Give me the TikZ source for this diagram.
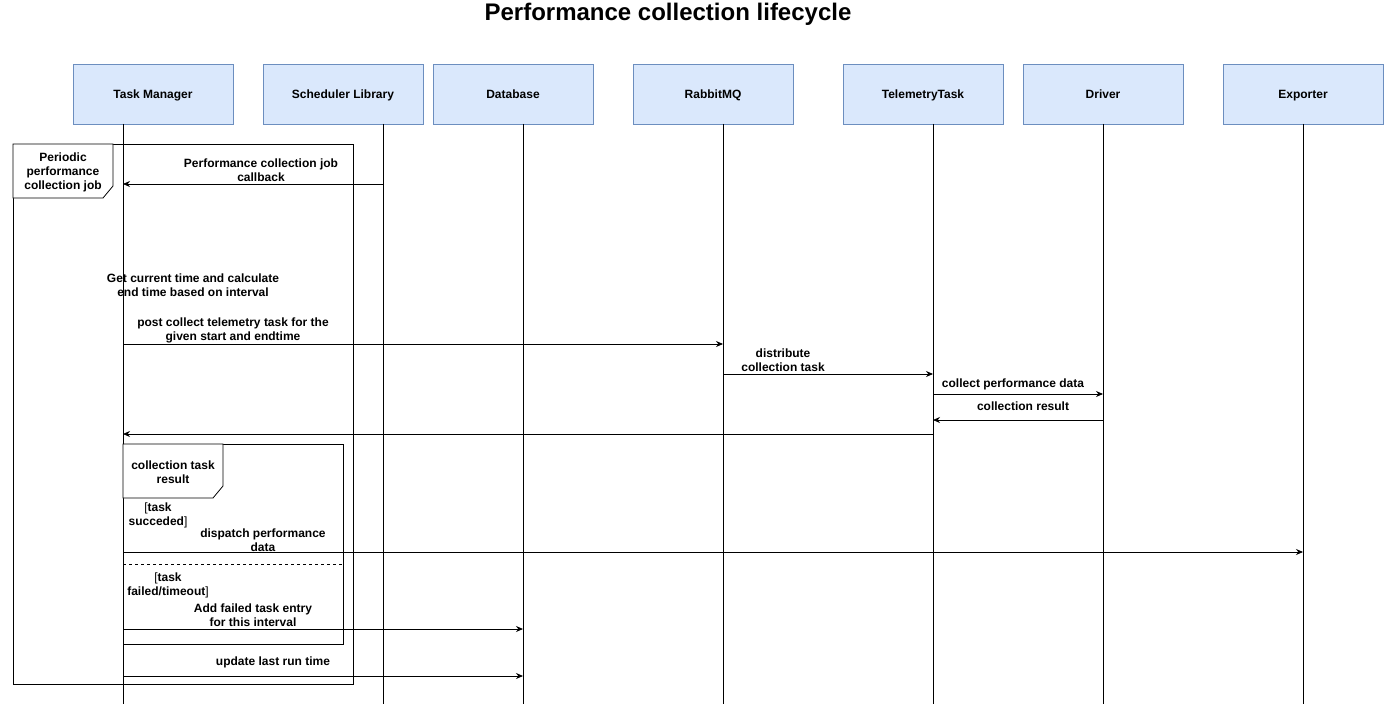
\documentclass[tikz,border=0pt]{standalone}
\usepackage{fontspec}
\setmainfont{Liberation Sans}
\usetikzlibrary{arrows.meta}
\definecolor{hdrfill}{HTML}{DAE8FC}
\definecolor{hdrdraw}{HTML}{6C8EBF}
\tikzset{l/.style={font=\fontsize{12}{14}\selectfont\bfseries, align=center, inner sep=0pt}}
\tikzset{t/.style={font=\fontsize{24}{28}\selectfont\bfseries, inner sep=0pt}}
\tikzset{hdr/.style={l, draw=hdrdraw, fill=hdrfill, line width=0.8pt, minimum width=160pt, minimum height=60pt, text height=10pt, text depth=1pt}}
\tikzset{msg/.style={line width=0.8pt, -{Stealth[length=7pt,width=6pt]}}}
\tikzset{ln/.style={line width=0.8pt}}

\begin{document}
\begin{tikzpicture}[x=1pt,y=-1pt]
  \useasboundingbox (0,0) rectangle (1384,706);
  \node[t] (title) at (668,14) {Performance collection lifecycle};

  % participants
  \node[hdr] (TM) at (153,94) {Task Manager};
  \node[hdr] (SL) at (343,94) {Scheduler Library};
  \node[hdr] (DB) at (513,94) {Database};
  \node[hdr] (RMQ) at (713,94) {RabbitMQ};
  \node[hdr] (TT) at (923,94) {TelemetryTask};
  \node[hdr] (DRV) at (1103,94) {Driver};
  \node[hdr] (EXP) at (1303,94) {Exporter};

  % lifelines
  \coordinate (TMtop) at (123,124);  \coordinate (TMbot) at (123,704);
  \coordinate (SLtop) at (383,124);  \coordinate (SLbot) at (383,704);
  \coordinate (DBtop) at (523,124);  \coordinate (DBbot) at (523,704);
  \coordinate (RMQtop) at (723,124); \coordinate (RMQbot) at (723,704);
  \coordinate (TTtop) at (933,124);  \coordinate (TTbot) at (933,704);
  \coordinate (DRVtop) at (1103,124); \coordinate (DRVbot) at (1103,704);
  \coordinate (EXPtop) at (1303,124); \coordinate (EXPbot) at (1303,704);
  \foreach \p in {TM,SL,DB,RMQ,TT,DRV,EXP}
    \draw[ln] (\p top) -- (\p bot);

  % loop frame
  \draw[ln] (13,144) rectangle (353,684);
  \draw[ln, fill=white] (13,144) -- (113,144) -- (113,186) -- (103,198) -- (13,198) -- cycle;
  \node[l] (loop) at (63,172) {Periodic\\performance\\collection job};

  % messages
  \coordinate (cbA) at (383,184); \coordinate (cbB) at (123,184);
  \draw[msg] (cbA) -- (cbB);
  \node[l] (cbL) at (261,170) {Performance collection job\\callback};

  \node[l] (calc) at (193,285) {Get current time and calculate\\end time based on interval};

  \coordinate (postA) at (123,344); \coordinate (postB) at (723,344);
  \draw[msg] (postA) -- (postB);
  \node[l] (postL) at (233,330) {post collect telemetry task for the\\given start and endtime};

  \coordinate (distA) at (723,374); \coordinate (distB) at (933,374);
  \draw[msg] (distA) -- (distB);
  \node[l] (distL) at (783,360) {distribute\\collection task};

  \coordinate (colA) at (933,394); \coordinate (colB) at (1103,394);
  \draw[msg] (colA) -- (colB);
  \node[l] (colL) at (1013,384) {collect performance data};

  \coordinate (resA) at (1103,420); \coordinate (resB) at (933,420);
  \draw[msg] (resA) -- (resB);
  \node[l] (resL) at (1023,406) {collection result};

  \coordinate (retA) at (933,434); \coordinate (retB) at (123,434);
  \draw[msg] (retA) -- (retB);

  % alt frame
  \draw[ln] (123,444) rectangle (343,644);
  \draw[ln, fill=white] (123,444) -- (223,444) -- (223,486) -- (213,498) -- (123,498) -- cycle;
  \node[l] (alt) at (173,472) {collection task\\result};
  \node[l] (okG) at (158,515) {{\mdseries[}task\\succeded{\mdseries]}};

  \coordinate (dispA) at (123,552); \coordinate (dispB) at (1303,552);
  \draw[msg] (dispA) -- (dispB);
  \node[l] (dispL) at (263,540) {dispatch performance\\data};

  \draw[ln, dashed] (123,564) -- (343,564);
  \node[l] (failG) at (168,585) {{\mdseries[}task\\failed/timeout{\mdseries]}};

  \coordinate (addA) at (123,629); \coordinate (addB) at (523,629);
  \draw[msg] (addA) -- (addB);
  \node[l] (addL) at (253,615) {Add failed task entry\\for this interval};

  \coordinate (updA) at (123,676); \coordinate (updB) at (523,676);
  \draw[msg] (updA) -- (updB);
  \node[l] (updL) at (273,662) {update last run time};
\end{tikzpicture}
\end{document}
